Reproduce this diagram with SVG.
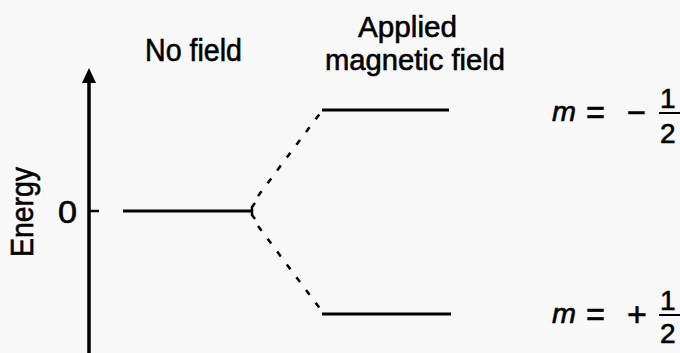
<svg xmlns="http://www.w3.org/2000/svg" width="680" height="353" viewBox="0 0 680 353">
<style>
text{font-family:"Liberation Sans",Arial,sans-serif;fill:#000;stroke:#000;stroke-width:0.6}
.lvl{stroke:#000;stroke-width:3;fill:none}
.dash{stroke:#000;stroke-width:2.5;fill:none;stroke-dasharray:6 10}
.lbl{font-size:32px}
.lbl2{font-size:30px}
.eq{font-size:28px}
.op{font-size:34px}
</style>
<rect width="680" height="353" fill="#f8f8f8"/>
<g id="axis">
<line x1="89" y1="80" x2="89" y2="353" stroke="#000" stroke-width="3.5"/>
<polygon points="89,68 96,83 82,83" fill="#000"/>
<line x1="89" y1="211" x2="99" y2="211" stroke="#000" stroke-width="2.5"/>
<text class="lbl" transform="translate(33,257) rotate(-90)" textLength="90" lengthAdjust="spacingAndGlyphs">Energy</text>
<text class="lbl" x="58" y="223" textLength="19" lengthAdjust="spacingAndGlyphs">0</text>
</g>
<g id="title-nofield">
<text class="lbl" x="145" y="61" textLength="97" lengthAdjust="spacingAndGlyphs">No field</text>
</g>
<g id="title-applied">
<text class="lbl2" x="358" y="37" textLength="99" lengthAdjust="spacingAndGlyphs">Applied</text>
<text class="lbl2" x="325" y="70" textLength="180" lengthAdjust="spacingAndGlyphs">magnetic field</text>
</g>
<g id="level-nofield">
<line class="lvl" x1="123" y1="211" x2="252" y2="211"/>
<path d="M255,203 L252,207 L252,215 L255,219" stroke="#000" stroke-width="2.5" fill="none"/>
</g>
<g id="level-upper">
<line class="lvl" x1="322" y1="110" x2="449" y2="110"/>
<text class="eq" x="552" y="121" font-style="italic" textLength="24" lengthAdjust="spacingAndGlyphs">m</text>
<text class="op" x="586" y="124" textLength="19" lengthAdjust="spacingAndGlyphs">=</text>
<text class="op" x="627" y="124" textLength="19" lengthAdjust="spacingAndGlyphs">−</text>
<text class="eq" x="660" y="108">1</text>
<line x1="659" y1="113" x2="680" y2="113" stroke="#000" stroke-width="2"/>
<text class="eq" x="660" y="143">2</text>
</g>
<g id="level-lower">
<line class="lvl" x1="322" y1="314" x2="451" y2="314"/>
<text class="eq" x="552" y="323" font-style="italic" textLength="24" lengthAdjust="spacingAndGlyphs">m</text>
<text class="op" x="586" y="326" textLength="19" lengthAdjust="spacingAndGlyphs">=</text>
<text class="op" x="627" y="326" textLength="20" lengthAdjust="spacingAndGlyphs">+</text>
<text class="eq" x="660" y="310">1</text>
<line x1="659" y1="315" x2="680" y2="315" stroke="#000" stroke-width="2"/>
<text class="eq" x="660" y="343">2</text>
</g>
<g id="connectors">
<path class="dash" d="M258,196 L321,112"/>
<path class="dash" d="M258,226 L321,310"/>
</g>
</svg>
